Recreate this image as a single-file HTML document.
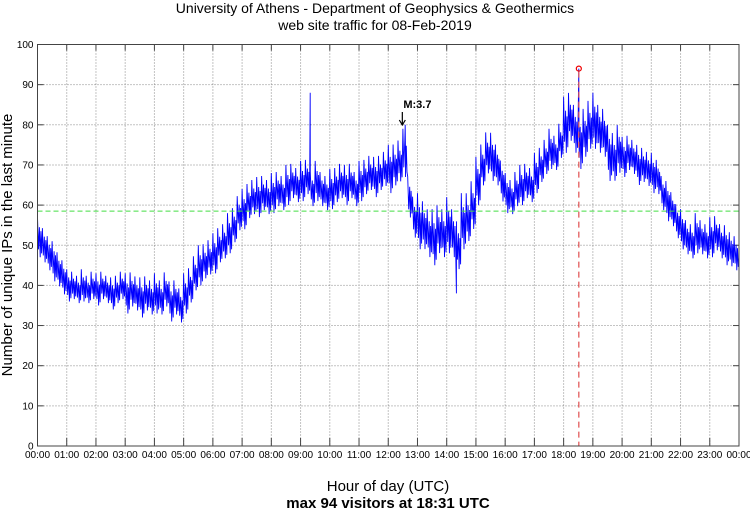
<!DOCTYPE html>
<html><head><meta charset="utf-8"><style>
html,body{margin:0;padding:0;background:#fff;}
svg{display:block;font-family:"Liberation Sans",sans-serif;}
</style></head><body>
<svg id="chart" width="750" height="511" viewBox="0 0 750 511">
<text x="375" y="13" text-anchor="middle" font-size="14">University of Athens - Department of Geophysics &amp; Geothermics</text>
<text x="375" y="30" text-anchor="middle" font-size="14">web site traffic for 08-Feb-2019</text>
<text transform="translate(12,245) rotate(-90)" text-anchor="middle" font-size="15">Number of unique IPs in the last minute</text>
<text x="388" y="491" text-anchor="middle" font-size="15">Hour of day (UTC)</text>
<text x="388" y="508" text-anchor="middle" font-size="15" font-weight="bold">max 94 visitors at 18:31 UTC</text>
<g id="grid"></g><g id="series"></g><g id="marks"></g>
<rect x="37.5" y="44.5" width="701.5" height="401.5" fill="none" stroke="#444" stroke-width="1"/>
</svg>
<script>
const yTicks=[0,10,20,30,40,50,60,70,80,90,100];
const xTickLabels=["00:00","01:00","02:00","03:00","04:00","05:00","06:00","07:00","08:00","09:00","10:00","11:00","12:00","13:00","14:00","15:00","16:00","17:00","18:00","19:00","20:00","21:00","22:00","23:00","00:00"];
// mean visitors every 10 minutes
const meanVals=[52,50,48,46,44,42, 40,40,39,40,39,40, 39,40,39,38,39,40, 38,39,38,37,38,37,
38,37,39,36,37,35, 38,40,43,45,46,47, 48,50,51,53,55,58, 59,61,62,62,63,62,
63,64,63,65,66,65, 66,67,64,66,64,63, 64,65,66,65,66,64, 66,67,68,67,68,69,
69,70,71,73,62,57, 56,55,53,52,54,53, 55,53,50,56,57,60, 66,70,73,72,70,66,
63,62,64,65,66,65, 68,70,72,74,73,76, 80,82,79,76,78,80, 81,79,78,73,72,74,
72,73,72,70,70,69, 68,67,63,61,59,56, 54,52,51,53,52,51, 52,53,51,50,49,48, 47];
// noise spread per hour
const spreadVals=[5,4,4,5,5,5,5,5,5,5,5,5,6,7,7,6,5,5,7,7,5,5,5,5];
const spikeTimes=[9.33,12.58,14.33,18.52];
const spikeVals=[88,80,38,94];
const avgVal=58.5;
const maxTime=18.52, maxVal=94;

const L=37.5,R=739,T=44.5,B=446;
const xs=h=>L+(R-L)*h/24;
const ys=v=>B-(B-T)*v/100;
const NS="http://www.w3.org/2000/svg";
function mk(tag,attrs,parent){const e=document.createElementNS(NS,tag);for(const k in attrs)e.setAttribute(k,attrs[k]);parent.appendChild(e);return e;}
const grid=document.getElementById('grid'),series=document.getElementById('series'),marks=document.getElementById('marks');
yTicks.forEach(v=>{
 if(v>0&&v<100){const g=mk('line',{x1:L,x2:R,y1:ys(v),y2:ys(v),stroke:'#888','stroke-dasharray':'1,2','stroke-width':1},grid);
 
 }
 const t=mk('line',{x1:L,x2:L+6,y1:ys(v),y2:ys(v),stroke:'#444'},grid);
 
 
 const t2=mk('line',{x1:R-6,x2:R,y1:ys(v),y2:ys(v),stroke:'#444'},grid);
 
 
 const lb=mk('text',{x:L-4,y:ys(v)+3.5,'text-anchor':'end','font-size':10},grid);
 lb.textContent=v;
 
 
});
xTickLabels.forEach((s,i)=>{
 const x=xs(i);
 if(i>0&&i<24){const g=mk('line',{x1:x,x2:x,y1:T,y2:B,stroke:'#888','stroke-dasharray':'1,2'},grid);
 
 }
 const t=mk('line',{x1:x,x2:x,y1:B-8,y2:B,stroke:'#444'},grid);
 
 
 const t2=mk('line',{x1:x,x2:x,y1:T,y2:T+6,stroke:'#444'},grid);
 
 
 const lb=mk('text',{x:x,y:B+12,'text-anchor':'middle','font-size':10},grid);
 lb.textContent=s;
 
 
});
// traffic line (zigzag noise band around the mean)
const step=24/(meanVals.length-1);
const shape=[[0,1],[0.2,-0.6],[0.4,0.5],[0.55,-1],[0.7,0.3],[0.85,-0.8]];
let pts=[];
meanVals.forEach((m,i)=>{
 const h=i*step, s=spreadVals[Math.min(23,Math.floor(h))];
 if(i<meanVals.length-1){shape.forEach(([f,a],k)=>{const sg=(i%2?-1:1)*(k%2?1:1);pts.push([h+step*f,m+s*a*(i%3===0?1:0.85)]);});}
 else pts.push([h,m]);
 spikeTimes.forEach((st,k)=>{if(st>=h&&st<h+step){pts.push([st,spikeVals[k]]);pts.push([st+0.01,m]);}});
});
pts.sort((a,b)=>a[0]-b[0]);
const line=mk('polyline',{points:pts.map(p=>xs(p[0]).toFixed(1)+','+ys(p[1]).toFixed(1)).join(' '),fill:'none',stroke:'#0000ff','stroke-width':0.9},series);


const avg=mk('line',{x1:L,x2:R,y1:ys(avgVal),y2:ys(avgVal),stroke:'#44dd44','stroke-dasharray':'5,3','stroke-width':1},marks);


const mx=mk('line',{x1:xs(maxTime),x2:xs(maxTime),y1:ys(maxVal)+3,y2:B,stroke:'#e05050','stroke-dasharray':'6,4','stroke-width':1.2},marks);


const c=mk('circle',{cx:xs(maxTime),cy:ys(maxVal),r:2.5,fill:'none',stroke:'#e00','stroke-width':1.2},marks);


const qx=xs(12.55);
const ann=mk('text',{x:qx-1,y:108,'font-size':11,'font-weight':'bold'},marks);
ann.textContent='M:3.7';


const ar=mk('path',{d:`M${qx-2},112 L${qx-2},124 M${qx-5},120 L${qx-2},125 L${qx+1},120`,stroke:'#000',fill:'none','stroke-width':1.2},marks);


</script>
</body></html>
